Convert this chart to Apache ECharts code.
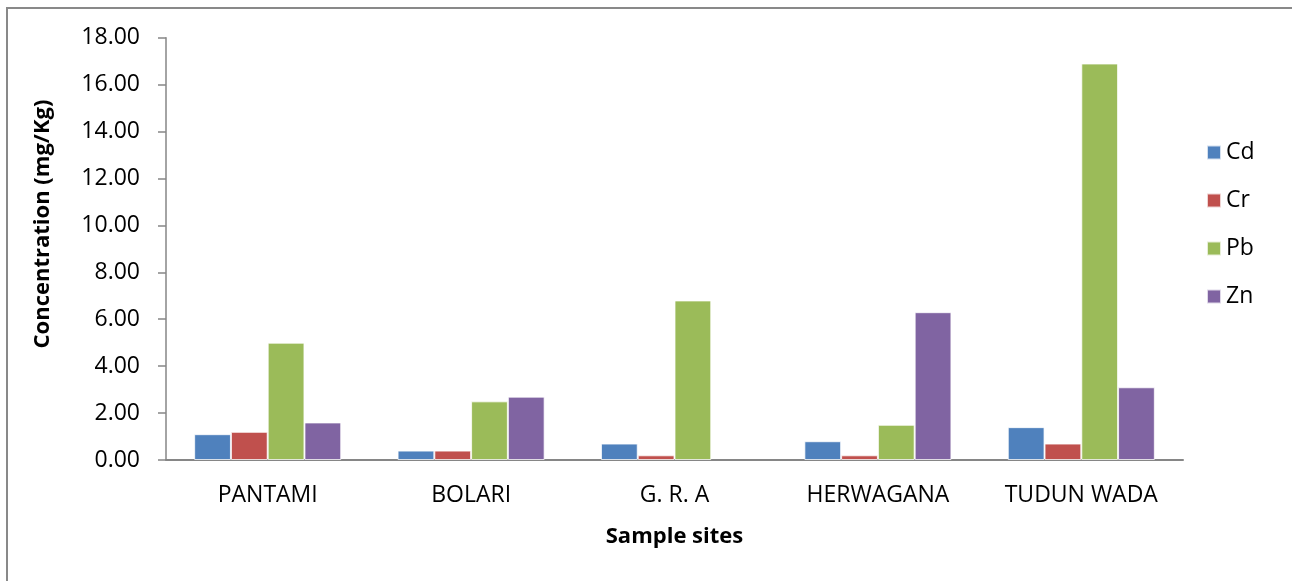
<!DOCTYPE html>
<html>
<head>
<meta charset="utf-8">
<title>Heavy metal concentration by sample site</title>
<script src="https://cdn.jsdelivr.net/npm/echarts@6/dist/echarts.min.js"></script>
<style>
  html, body { margin: 0; padding: 0; background: #ffffff; }
  #chart { width: 1292px; height: 581px; }
</style>
</head>
<body>
<div id="chart"></div>
<script>
// Sample sites along the x axis
const sites = ['PANTAMI', 'BOLARI', 'G. R. A', 'HERWAGANA', 'TUDUN WADA'];

// Metal concentrations (mg/Kg) per site
const cd = [1.1, 0.4, 0.7, 0.8, 1.4];
const cr = [1.2, 0.4, 0.2, 0.2, 0.7];
const pb = [5.0, 2.5, 6.8, 1.5, 16.9];
const zn = [1.6, 2.7, 0.0, 6.3, 3.1];

const metals = ['Cd', 'Cr', 'Pb', 'Zn'];
const colors = ['#4F81BD', '#C0504D', '#9BBB59', '#8064A2'];
const values = [cd, cr, pb, zn];

const FONT = '"Open Sans", "Noto Sans", sans-serif';
const FONT_SIZE = 23;
const AXIS_GREY = '#868686';

const chart = echarts.init(document.getElementById('chart'), null, { renderer: 'canvas' });

// Zero-height bars get no outline so the axis line stays unbroken
const series = metals.map((name, i) => ({
  name: name,
  type: 'bar',
  data: values[i].map(v => (v === 0 ? { value: v, itemStyle: { borderWidth: 0 } } : v)),
  barGap: '0%',
  barCategoryGap: '27.7%',
  itemStyle: {
    color: colors[i],
    borderColor: 'rgba(255,255,255,0.75)',
    borderWidth: 1
  },
  emphasis: { disabled: true }
}));

chart.setOption({
  animation: false,
  backgroundColor: '#ffffff',
  textStyle: { fontFamily: FONT },
  grid: { left: 166, right: 109, top: 37.7, bottom: 121, containLabel: false },
  legend: {
    orient: 'vertical',
    left: 1201,
    top: 136,
    itemWidth: 14,
    itemHeight: 14,
    itemGap: 25,
    icon: 'rect',
    textStyle: { fontFamily: FONT, fontSize: FONT_SIZE, color: '#000' },
    data: metals
  },
  xAxis: {
    type: 'category',
    data: sites,
    name: 'Sample sites',
    nameLocation: 'middle',
    nameGap: 66,
    nameTextStyle: { fontFamily: FONT, fontSize: 22, fontWeight: 'bold', color: '#000' },
    axisLine: { lineStyle: { color: AXIS_GREY, width: 2 } },
    axisTick: { show: false },
    axisLabel: { fontFamily: FONT, fontSize: FONT_SIZE, color: '#000', margin: 24 },
    splitLine: { show: false }
  },
  yAxis: {
    type: 'value',
    min: 0,
    max: 18,
    interval: 2,
    axisLine: { show: true, lineStyle: { color: AXIS_GREY, width: 1.5 } },
    axisTick: { show: true, inside: false, length: 8, lineStyle: { color: AXIS_GREY, width: 1.5 } },
    axisLabel: {
      fontFamily: FONT,
      fontSize: FONT_SIZE,
      color: '#000',
      margin: 26,
      formatter: v => v.toFixed(2)
    },
    splitLine: { show: false }
  },
  graphic: [
    {
      type: 'rect',
      silent: true,
      shape: { x: 7, y: 8, width: 1320, height: 620 },
      style: { fill: 'none', stroke: '#898989', lineWidth: 2 }
    },
    {
      type: 'text',
      silent: true,
      x: 43,
      y: 224,
      rotation: Math.PI / 2,
      style: {
        text: 'Concentration (mg/Kg)',
        fontFamily: FONT,
        fontSize: 22,
        fontWeight: 'bold',
        fill: '#000',
        textAlign: 'center',
        textVerticalAlign: 'middle'
      }
    }
  ],
  series: series
});
</script>
</body>
</html>
